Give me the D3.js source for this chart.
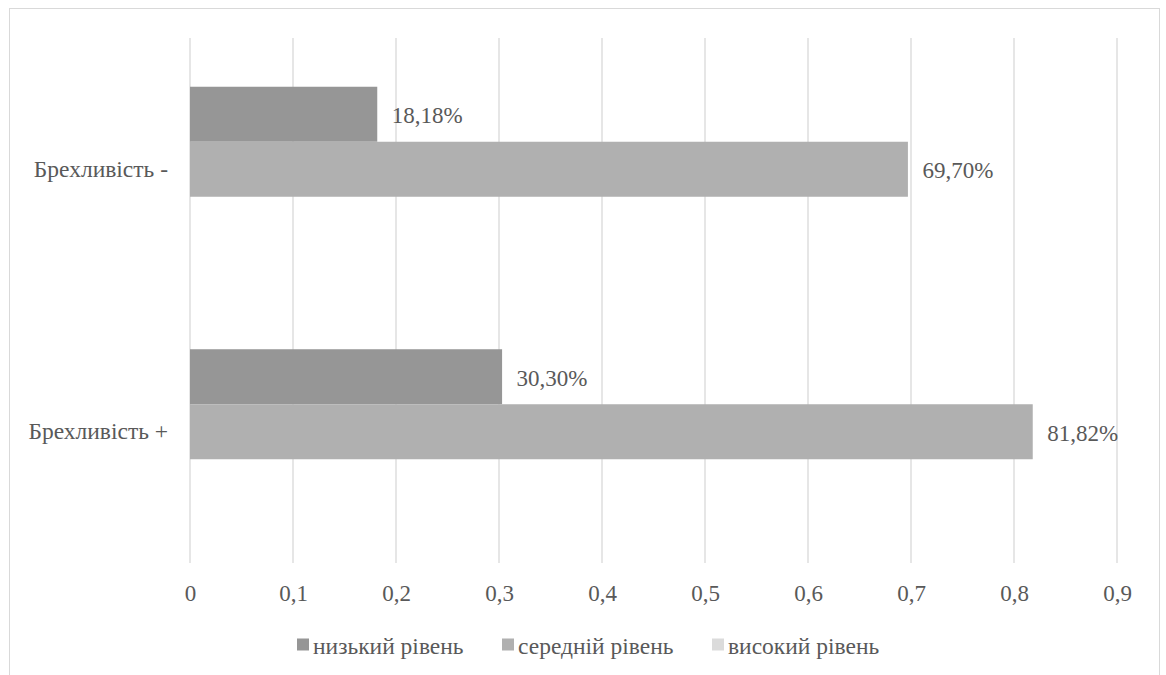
<!DOCTYPE html>
<html>
<head>
<meta charset="utf-8">
<script src="https://cdn.jsdelivr.net/npm/d3@7"></script>
<style>
  html, body { margin: 0; padding: 0; background: #fff; }
  svg { display: block; }
</style>
</head>
<body>
<svg id="chart" width="1166" height="675"></svg>
<script>
// Categories listed bottom to top
const categories = ["Брехливість +", "Брехливість -"];
const seriesNames = ["низький рівень", "середній рівень", "високий рівень"];
const lowValues = [0.3030, 0.1818];
const midValues = [0.8182, 0.6970];
const highValues = [null, null];
const seriesColors = ["#969696", "#b0b0b0", "#dbdbdb"];
const xTicks = [0, 0.1, 0.2, 0.3, 0.4, 0.5, 0.6, 0.7, 0.8, 0.9];

const seriesValues = [lowValues, midValues, highValues];

const FONT = "'Liberation Serif'";
const TEXT_COLOR = "#595959";

const styleText = (sel, size) => sel
  .attr("font-family", null)
  .style("font-family", FONT)
  .style("font-size", size)
  .style("fill", TEXT_COLOR);

const svg = d3.select("#chart");

// Chart frame
svg.append("rect")
  .attr("x", 9.5).attr("y", 8.5)
  .attr("width", 1150).attr("height", 680)
  .attr("fill", "#fff").attr("stroke", "#d9d9d9").attr("stroke-width", 1);

const plot = { left: 190, right: 1117, top: 38, bottom: 563 };

const x = d3.scaleLinear().domain([0, 0.9]).range([plot.left, plot.right]);

// First category sits at the bottom
const y0 = d3.scaleBand()
  .domain(categories.slice().reverse())
  .range([plot.top, plot.bottom])
  .paddingInner(0.3714).paddingOuter(0.1857);

const y1 = d3.scaleBand()
  .domain(seriesNames)
  .range([0, y0.bandwidth()]);

const fmtTick = v => d3.format(".1f")(v).replace(".", ",");
const fmtPct = v => d3.format(".2%")(v).replace(".", ",");

// Vertical gridlines
svg.append("g")
  .selectAll("line")
  .data(xTicks)
  .join("line")
  .attr("x1", d => x(d)).attr("x2", d => x(d))
  .attr("y1", plot.top).attr("y2", plot.bottom)
  .attr("stroke", "#d9d9d9").attr("stroke-width", 1.3);

// Tick labels via axis generator
const xAxis = d3.axisBottom(x)
  .tickValues(xTicks)
  .tickFormat(d => d === 0 ? "0" : fmtTick(d))
  .tickSize(0).tickPadding(0);

const axisG = svg.append("g")
  .attr("transform", `translate(0,${plot.bottom + 22})`)
  .call(xAxis)
  .attr("font-family", null).attr("font-size", null);
axisG.select(".domain").remove();
axisG.selectAll("text").call(styleText, "23px").attr("dy", "0.71em");

// Category labels
const yAxis = d3.axisLeft(y0).tickSize(0).tickPadding(22);
const yAxisG = svg.append("g")
  .attr("transform", `translate(${plot.left},0)`)
  .call(yAxis)
  .attr("font-family", null).attr("font-size", null);
yAxisG.select(".domain").remove();
yAxisG.selectAll("text").call(styleText, "23.5px");

// Bars
const rows = [];
categories.forEach((c, ci) => {
  seriesNames.forEach((s, si) => {
    const v = seriesValues[si][ci];
    if (v != null) rows.push({ cat: c, series: s, si, value: v });
  });
});

svg.append("g")
  .selectAll("rect")
  .data(rows)
  .join("rect")
  .attr("x", x(0))
  .attr("y", d => y0(d.cat) + y1(d.series))
  .attr("width", d => x(d.value) - x(0))
  .attr("height", y1.bandwidth())
  .attr("fill", d => seriesColors[d.si]);

// Value labels
svg.append("g")
  .selectAll("text")
  .data(rows)
  .join("text")
  .attr("x", d => x(d.value) + 14.5)
  .attr("y", d => y0(d.cat) + y1(d.series) + y1.bandwidth() / 2 + 1)
  .attr("dy", "0.35em")
  .call(styleText, "23px")
  .text(d => fmtPct(d.value));

// Legend
const legendItems = [
  { name: seriesNames[0], color: seriesColors[0], x: 297 },
  { name: seriesNames[1], color: seriesColors[1], x: 502 },
  { name: seriesNames[2], color: seriesColors[2], x: 712 }
];
const lg = svg.append("g");
legendItems.forEach(it => {
  lg.append("rect")
    .attr("x", it.x).attr("y", 638.5)
    .attr("width", 12).attr("height", 12)
    .attr("fill", it.color);
  lg.append("text")
    .attr("x", it.x + 16).attr("y", 645.5)
    .attr("dy", "0.35em")
    .call(styleText, "23.5px")
    .text(it.name);
});
</script>
</body>
</html>
